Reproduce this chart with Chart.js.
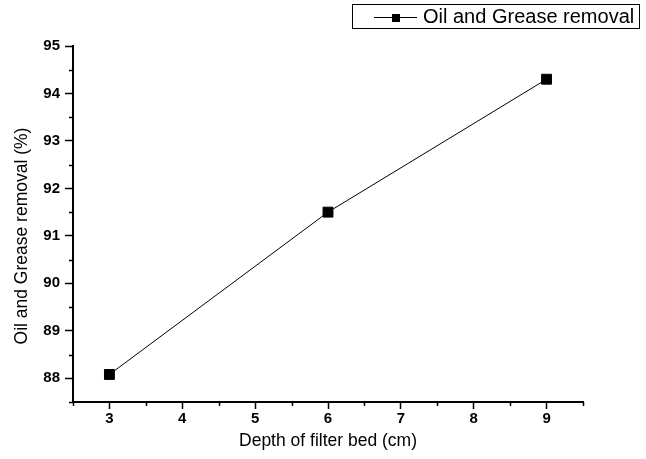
<!DOCTYPE html>
<html>
<head>
<meta charset="utf-8">
<script src="https://cdn.jsdelivr.net/npm/chart.js@4.4.1/dist/chart.umd.min.js"></script>
<style>
  html, body { margin: 0; padding: 0; background: #fff; }
  #wrap { width: 646px; height: 459px; }
</style>
</head>
<body>
<div id="wrap"><canvas id="removalChart" width="646" height="459"></canvas></div>
<script>
// filter bed depth (cm) vs oil & grease removal (%)
var depths = [3, 6, 9];
var removal = [88.08, 91.5, 94.3];
var xTicks = [3, 4, 5, 6, 7, 8, 9];
var yTicks = [88, 89, 90, 91, 92, 93, 94, 95];
var seriesLabel = 'Oil and Grease removal';
var yTitle = 'Oil and Grease removal (%)';

var FONT = "'Liberation Sans', Arial, sans-serif";

// short half-step ticks on both axes
var minorTicks = {
  id: 'minorTicks',
  afterDraw: function (chart) {
    var ctx = chart.ctx, xs = chart.scales.x, ys = chart.scales.y;
    ctx.save();
    ctx.strokeStyle = '#000';
    ctx.lineWidth = 1.5;
    ctx.beginPath();
    for (var v = xs.min; v <= xs.max + 1e-9; v += 0.5) {
      if (Math.abs(v - Math.round(v)) < 1e-9) continue;
      var px = Math.round(xs.getPixelForValue(v)) + 0.5;
      ctx.moveTo(px, xs.top);
      ctx.lineTo(px, xs.top + 4);
    }
    for (var w = ys.min; w <= ys.max + 1e-9; w += 0.5) {
      if (Math.abs(w - Math.round(w)) < 1e-9) continue;
      var py = Math.round(ys.getPixelForValue(w)) + 0.5;
      ctx.moveTo(ys.right, py);
      ctx.lineTo(ys.right - 4, py);
    }
    ctx.stroke();
    ctx.restore();
  }
};

// rotated y title, sits a little below the axis middle
var sideTitle = {
  id: 'sideTitle',
  afterDraw: function (chart) {
    var ctx = chart.ctx;
    ctx.save();
    ctx.translate(22, 236);
    ctx.rotate(-Math.PI / 2);
    ctx.font = '17.5px ' + FONT;
    ctx.fillStyle = '#000';
    ctx.textAlign = 'center';
    ctx.textBaseline = 'middle';
    ctx.fillText(yTitle, 0, 0);
    ctx.restore();
  }
};

// boxed legend in the top right corner
var boxLegend = {
  id: 'boxLegend',
  afterDraw: function (chart) {
    var ctx = chart.ctx;
    var ds = chart.data.datasets[0];
    ctx.save();
    ctx.strokeStyle = '#000';
    ctx.lineWidth = 1;
    ctx.strokeRect(352.5, 4.5, 287, 24);
    ctx.beginPath();
    ctx.moveTo(374, 17.5);
    ctx.lineTo(417, 17.5);
    ctx.stroke();
    ctx.fillStyle = '#000';
    ctx.fillRect(392, 14, 8, 8);
    ctx.font = '20px ' + FONT;
    ctx.textBaseline = 'middle';
    ctx.textAlign = 'left';
    ctx.fillText(ds.label, 423, 17);
    ctx.restore();
  }
};

var points = depths.map(function (d, i) { return { x: d, y: removal[i] }; });

new Chart(document.getElementById('removalChart'), {
  type: 'line',
  data: {
    datasets: [{
      label: seriesLabel,
      data: points,
      borderColor: '#000',
      backgroundColor: '#000',
      borderWidth: 1,
      pointStyle: 'rect',
      pointRadius: 7,
      pointHoverRadius: 7,
      tension: 0
    }]
  },
  options: {
    responsive: false,
    animation: false,
    events: [],
    layout: { padding: { top: 46, right: 63, left: 0, bottom: 0 } },
    plugins: {
      legend: { display: false },
      tooltip: { enabled: false }
    },
    scales: {
      x: {
        type: 'linear',
        min: 2.5,
        max: 9.5,
        afterFit: function (s) { s.height = 57; },
        afterBuildTicks: function (s) { s.ticks = xTicks.map(function (v) { return { value: v }; }); },
        grid: { drawOnChartArea: false, drawTicks: true, tickLength: 7, tickColor: '#000', tickWidth: 1.5 },
        border: { display: true, color: '#000', width: 2 },
        ticks: { color: '#000', padding: 1, font: { family: FONT, size: 15, weight: 'bold' } },
        title: {
          display: true,
          text: 'Depth of filter bed (cm)',
          color: '#000',
          padding: { top: 0, bottom: 7 },
          font: { family: FONT, size: 17.5 }
        }
      },
      y: {
        min: 87.5,
        max: 95,
        afterFit: function (s) { s.width = 73; },
        afterBuildTicks: function (s) { s.ticks = yTicks.map(function (v) { return { value: v }; }); },
        grid: { drawOnChartArea: false, drawTicks: true, tickLength: 8, tickColor: '#000', tickWidth: 1.5 },
        border: { display: true, color: '#000', width: 2 },
        ticks: { color: '#000', padding: 5, font: { family: FONT, size: 15, weight: 'bold' } },
        title: { display: false }
      }
    }
  },
  plugins: [minorTicks, sideTitle, boxLegend]
});
</script>
</body>
</html>
